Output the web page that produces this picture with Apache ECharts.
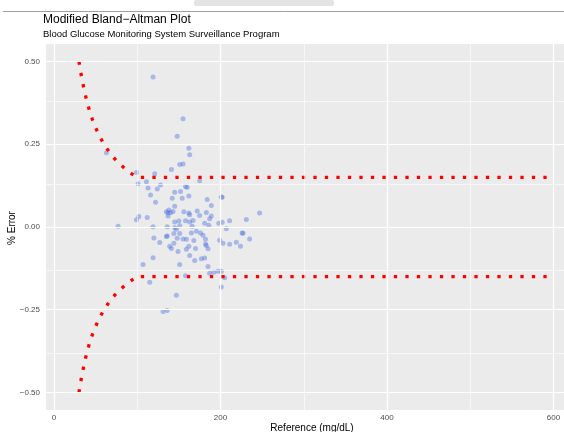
<!DOCTYPE html>
<html><head><meta charset="utf-8">
<script src="https://cdn.jsdelivr.net/npm/echarts@6/dist/echarts.min.js"></script>
<style>html,body{margin:0;padding:0;background:#fff}#c{width:564px;height:432px}</style>
</head><body><div id="c"></div>
<script>
const titleText = 'Modified Bland\u2212Altman Plot';
const subtitleText = 'Blood Glucose Monitoring System Surveillance Program';
const xAxisTitle = 'Reference (mg/dL)';
const yAxisTitle = '% Error';
const xTicks = [0, 200, 400, 600];
const xMinorGrid = [100, 300, 500];
const yTicks = [-0.5, -0.25, 0, 0.25, 0.5];
const yMinorGrid = [-0.375, -0.125, 0.125, 0.375];

// Scatter points: reference value and % error
const refX = [119,155,148,162,163,63,141,151,155,99,121,175,101,113,128,124,158,160,152,145,116,162,142,154,201,202,184,122,189,145,138,135,140,156,162,172,183,102,99,112,137,175,189,187,247,150,158,163,181,198,202,211,231,77,119,136,145,151,166,186,207,171,165,147,151,144,120,135,136,179,176,226,227,235,127,144,139,141,149,159,162,170,163,199,203,211,219,224,182,183,185,168,159,119,107,151,169,177,181,185,187,192,197,201,205,115,158,201,147,131,136,111,163,167,145,182,148,155,143,137];
const errY = [0.453,0.327,0.274,0.238,0.218,0.224,0.174,0.189,0.190,0.165,0.161,0.140,0.131,0.118,0.127,0.115,0.122,0.120,0.107,0.105,0.097,0.094,0.087,0.087,0.091,0.090,0.083,0.075,0.065,0.063,0.051,0.046,0.043,0.046,0.042,0.048,0.044,0.032,0.022,0.029,0.033,0.035,0.033,0.025,0.042,0.018,0.019,0.015,0.011,0.011,0.014,0.019,0.023,0.002,0.001,0.001,-0.002,0.004,0.002,0.005,-0.005,-0.013,-0.018,-0.007,-0.020,-0.020,-0.033,-0.029,-0.027,-0.025,-0.018,-0.018,-0.019,-0.036,-0.047,-0.049,-0.058,-0.065,-0.074,-0.067,-0.058,-0.065,-0.086,-0.040,-0.049,-0.052,-0.046,-0.058,-0.051,-0.056,-0.066,-0.041,-0.037,-0.093,-0.113,-0.113,-0.101,-0.096,-0.094,-0.119,-0.140,-0.137,-0.134,-0.134,-0.153,-0.167,-0.147,-0.181,-0.206,-0.255,-0.252,0.137,0.037,0.020,0.015,-0.037,-0.034,-0.036,0.047,0.043];

// Error limits (dotted red)
const limitX = [30, 33, 36, 39, 42, 46, 50, 55, 61, 69, 77, 88, 100, 600];
const upperLimit = [0.50, 0.455, 0.417, 0.385, 0.357, 0.326, 0.300, 0.273, 0.246, 0.217, 0.195, 0.170, 0.15, 0.15];
const lowerLimit = [-0.50, -0.455, -0.417, -0.385, -0.357, -0.326, -0.300, -0.273, -0.246, -0.217, -0.195, -0.170, -0.15, -0.15];

const FONT = "'Liberation Sans', Arial, Helvetica, sans-serif";
const chart = echarts.init(document.getElementById('c'), null, {renderer: 'canvas'});

const gl = (vals, axis, w) => vals.map(v => ({[axis]: v, lineStyle: {width: w, color: '#ffffff', type: 'solid'}}));
const yFmt = v => (v < 0 ? '\u2212' : '') + Math.abs(v).toFixed(2);

chart.setOption({
  animation: false,
  backgroundColor: '#ffffff',
  grid: {left: 46, top: 44, width: 518, height: 366, show: true, backgroundColor: '#EBEBEB', borderWidth: 0},
  xAxis: {
    type: 'value', min: -9.6, max: 612.6,
    splitLine: {show: false}, axisLine: {show: false},
    axisTick: {show: true, customValues: xTicks, length: 3, lineStyle: {color: '#333333', width: 1}},
    axisLabel: {customValues: xTicks, color: '#4D4D4D', fontSize: 8, fontFamily: FONT, margin: 4}
  },
  yAxis: {
    type: 'value', min: -0.553, max: 0.553,
    splitLine: {show: false}, axisLine: {show: false},
    axisTick: {show: true, customValues: yTicks, length: 3, lineStyle: {color: '#333333', width: 1}},
    axisLabel: {customValues: yTicks, formatter: yFmt, color: '#4D4D4D', fontSize: 8, fontFamily: FONT, margin: 6}
  },
  graphic: [
    {type: 'line', shape: {x1: 3, y1: 11.5, x2: 564, y2: 11.5}, style: {stroke: '#a0a0a0', lineWidth: 1}},
    {type: 'rect', shape: {x: 194, y: 0, width: 140, height: 6, r: 2}, style: {fill: '#e4e4e4'}},
    {type: 'text', x: 43, y: 20, style: {text: titleText, font: '12px ' + FONT, fill: '#000000', textVerticalAlign: 'middle'}},
    {type: 'text', x: 43, y: 34.5, style: {text: subtitleText, font: '9.5px ' + FONT, fill: '#000000', textVerticalAlign: 'middle'}},
    {type: 'text', x: 12.5, y: 228, rotation: Math.PI / 2, style: {text: yAxisTitle, font: '10px ' + FONT, fill: '#000000', textAlign: 'center', textVerticalAlign: 'middle'}},
    {type: 'text', x: 312, y: 428, style: {text: xAxisTitle, font: '10px ' + FONT, fill: '#000000', textAlign: 'center', textVerticalAlign: 'middle'}}
  ],
  series: [
    {
      type: 'scatter', data: [], z: 1, silent: true,
      markLine: {
        silent: true, symbol: 'none', label: {show: false}, animation: false,
        data: [].concat(gl(xMinorGrid, 'xAxis', 0.6), gl(yMinorGrid, 'yAxis', 0.6), gl(xTicks, 'xAxis', 1.2), gl(yTicks, 'yAxis', 1.2))
      }
    },
    {
      type: 'scatter', z: 3, symbol: 'circle', symbolSize: 5,
      itemStyle: {color: 'rgba(65,105,225,0.5)', borderWidth: 0},
      data: refX.map((x, i) => [x, errY[i]])
    },
    {
      type: 'line', z: 4, symbol: 'none', smooth: false,
      lineStyle: {color: '#FF0000', width: 3.3, type: [3.3, 8.2], cap: 'butt'},
      data: limitX.map((x, i) => [x, upperLimit[i]])
    },
    {
      type: 'line', z: 4, symbol: 'none', smooth: false,
      lineStyle: {color: '#FF0000', width: 3.3, type: [3.3, 8.2], cap: 'butt'},
      data: limitX.map((x, i) => [x, lowerLimit[i]])
    }
  ]
});
</script>
</body></html>
